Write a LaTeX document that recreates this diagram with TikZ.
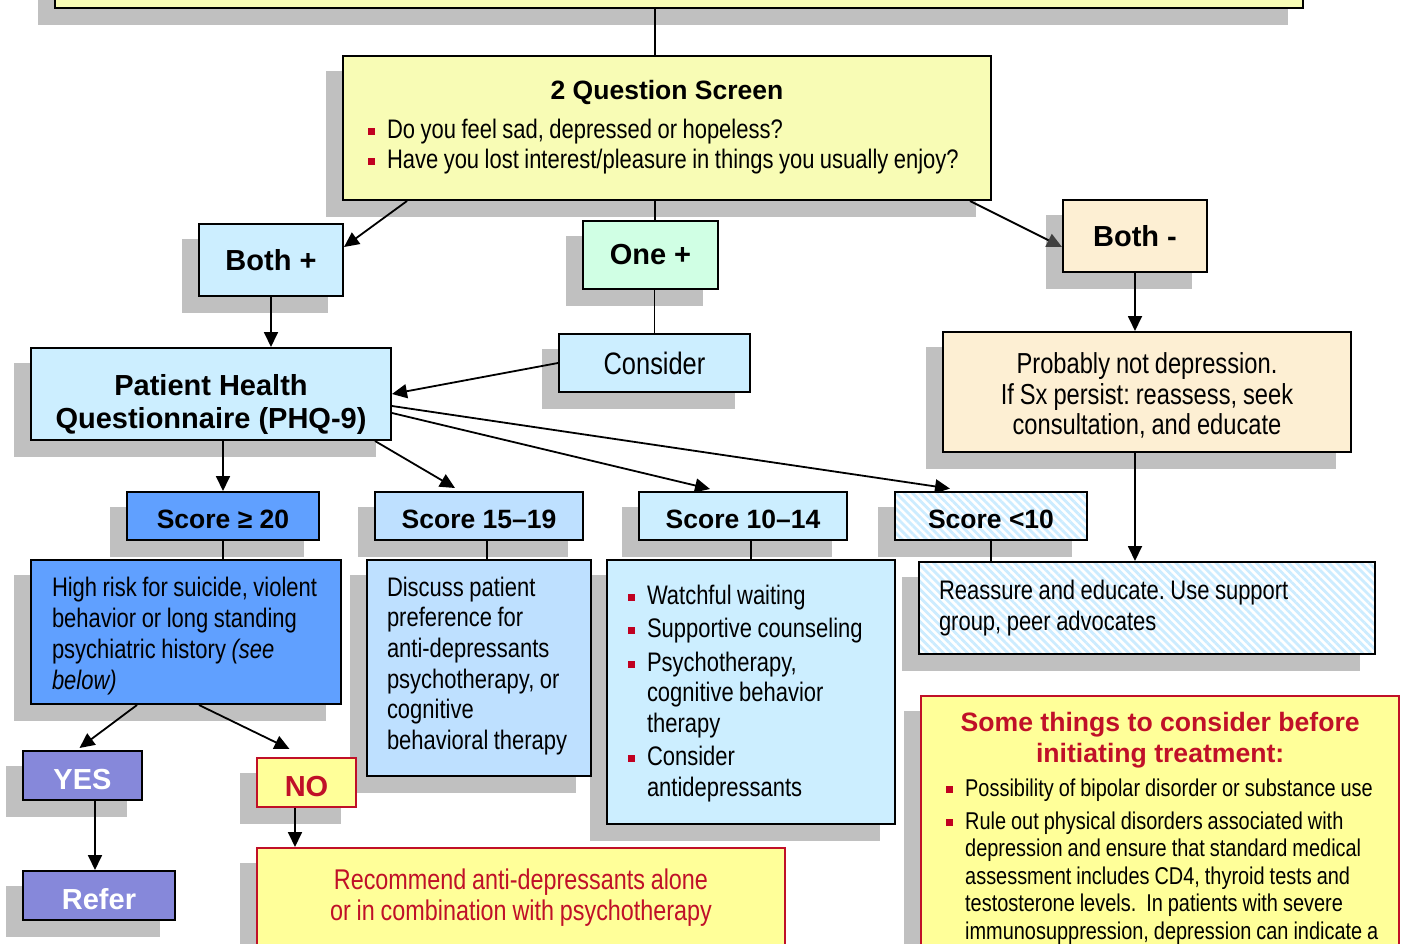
\documentclass[tikz,border=0pt]{standalone}
\usepackage{fontspec}
\setmainfont{Liberation Sans}
\newfontfamily\nar[FakeStretch=0.82,WordSpace=0.9]{Liberation Sans}
\usetikzlibrary{arrows.meta,patterns.meta,calc}
\pgfdeclarelayer{shadowlayer}
\pgfdeclarelayer{connlayer}
\pgfsetlayers{shadowlayer,connlayer,main}
\definecolor{ylw}{RGB}{248,252,181}
\definecolor{lblue}{RGB}{204,238,255}
\definecolor{lgreen}{RGB}{208,255,228}
\definecolor{peach}{RGB}{253,239,211}
\definecolor{midblue}{RGB}{96,160,255}
\definecolor{blueb}{RGB}{190,224,255}
\definecolor{purp}{RGB}{134,136,218}
\definecolor{yel}{RGB}{255,255,153}
\definecolor{dred}{RGB}{192,16,40}
\definecolor{bulred}{RGB}{192,0,32}
\definecolor{shadowc}{RGB}{192,192,192}
\definecolor{stripe}{RGB}{204,236,255}
\definecolor{tipgray}{RGB}{64,64,64}
\newcommand\bul{\makebox[19pt][l]{\textcolor{bulred}{\rule[3.5pt]{7pt}{7pt}}}}
\newcommand\ind{\hspace*{19pt}}
\newcommand\shd[1]{\fill[shadowc] ([shift={(-16,16)}]#1.south west) rectangle ([shift={(-16,16)}]#1.north east);}
\newcommand\ttl[1]{\makebox[428pt][c]{\rmfamily\bfseries\color{dred}\fontsize{26.6}{31}\selectfont #1}}
\frenchspacing
\tikzset{
  box/.style={draw=black, line width=2pt, inner sep=0pt, anchor=center},
  redbox/.style={draw=dred, line width=2pt, inner sep=0pt, anchor=center, fill=yel},
  hatched/.style={preaction={fill=white}, pattern={Lines[angle=-45,distance=5.7pt,line width=2.8pt]}, pattern color=stripe},
  arr/.style={line width=1.8pt, -{Triangle[length=15pt,width=14pt]}},
  grayarr/.style={line width=1.8pt, -{Triangle[length=15pt,width=14pt,color=tipgray,fill=tipgray]}},
  conn/.style={line width=1.8pt},
  hd/.style={font=\bfseries\fontsize{29}{33}\selectfont},
  lowhd/.style={hd, text height=27pt, text depth=0pt},
  sc/.style={font=\bfseries\fontsize{26.5}{30}\selectfont, text height=24pt, text depth=0pt},
  txt/.style={font=\nar\fontsize{26.8}{30.7}\selectfont},
}
\begin{document}
\begin{tikzpicture}[x=1pt,y=-1pt]
\useasboundingbox (0,0) rectangle (1401,943);
% boxes
\node[box, fill=ylw, minimum width=1248pt, minimum height=68pt] (top) at (679,-26) {};
\node[box, fill=ylw, minimum width=648pt, minimum height=144pt] (q2) at (667,128)
 {\begin{minipage}{598pt}\centering\bfseries\fontsize{26.5}{30}\selectfont 2 Question Screen\par\vspace{9pt}
  \raggedright\nar\mdseries\fontsize{26.8}{30}\selectfont
  \bul Do you feel sad, depressed or hopeless?\par
  \bul Have you lost interest/pleasure in things you usually enjoy?\par\vspace{1pt}\end{minipage}};
\node[box, fill=lblue, minimum width=144pt, minimum height=72pt, hd] (bothp) at (271,260) {Both +};
\node[box, fill=lgreen, minimum width=135pt, minimum height=68pt, hd] (onep) at (650.5,255) {One +};
\node[box, fill=lblue, minimum width=191pt, minimum height=58pt, font=\nar\fontsize{31}{34}\selectfont] (cons) at (654.5,363) {Consider};
\node[box, fill=peach, minimum width=144pt, minimum height=72pt, hd] (bothm) at (1135,236) {Both -};
\node[box, fill=peach, minimum width=408pt, minimum height=120pt, font=\nar\fontsize{28.9}{30.5}\selectfont] (prob) at (1147,392)
 {\begin{tabular}{@{}c@{}}\rule{0pt}{34pt}Probably not depression.\\If Sx persist: reassess, seek\\consultation, and educate\end{tabular}};
\node[box, fill=lblue, minimum width=360pt, minimum height=92pt, hd] (phq) at (211,394)
 {\begin{tabular}{@{}c@{}}\rule{0pt}{45pt}Patient Health\\Questionnaire (PHQ-9)\end{tabular}};
\node[box, fill=midblue, minimum width=192pt, minimum height=48pt, sc] (s20) at (223,516) {Score ≥ 20};
\node[box, fill=blueb, minimum width=208pt, minimum height=48pt, sc] (s15) at (479,516) {Score 15–19};
\node[box, fill=lblue, minimum width=208pt, minimum height=48pt, sc] (s10) at (743,516) {Score 10–14};
\node[box, hatched, minimum width=192pt, minimum height=48pt, sc] (s0) at (991,516) {Score <10};
\node[box, fill=midblue, minimum width=310pt, minimum height=144pt, txt, text width=268pt, align=flush left] (hr) at (186,632)
 {\rule{0pt}{27.6pt}High risk for suicide, violent\\behavior or long standing\\psychiatric history \textit{(see}\\\textit{below)}};
\node[box, fill=blueb, minimum width=224pt, minimum height=216pt, txt, text width=184pt, align=flush left] (disc) at (479,668)
 {Discuss patient\\preference for\\anti-depressants\\psychotherapy, or\\cognitive\\behavioral therapy\rule[-9.6pt]{0pt}{1pt}};
\node[box, fill=lblue, minimum width=288pt, minimum height=264pt, txt, text width=246pt, align=flush left] (watch) at (751,692)
 {\rule{0pt}{22.6pt}\bul Watchful waiting\\[2.5pt]\bul Supportive counseling\\[2.5pt]\bul Psychotherapy,\\\ind cognitive behavior\\\ind therapy\\[2.5pt]\bul Consider\\\ind antidepressants};
\node[box, hatched, minimum width=456pt, minimum height=92pt, txt, text width=416pt, align=flush left] (reas) at (1147,608)
 {Reassure and educate. Use support\\group, peer advocates};
\node[box, fill=purp, minimum width=119pt, minimum height=49pt, lowhd, text=white] (yes) at (82.5,775.5) {YES};
\node[box, fill=purp, minimum width=152pt, minimum height=49pt, lowhd, text=white] (refer) at (99,895.5) {Refer};
\node[redbox, minimum width=99pt, minimum height=49pt, lowhd, text=dred] (no) at (306.5,782.5) {NO};
\node[redbox, minimum width=528pt, minimum height=160pt] (rec) at (521,928) {};
\node[font=\nar\fontsize{28.5}{31}\selectfont, text=dred, anchor=center] (rectxt) at (521,899)
 {\begin{tabular}{@{}c@{}}Recommend anti-depressants alone\\or in combination with psychotherapy\end{tabular}};
\node[redbox, minimum width=478pt, minimum height=320pt] (things) at (1160,856) {};
\node[anchor=north west, inner sep=0pt, align=flush left, font=\nar\fontsize{24.3}{27.5}\selectfont] (thingstxt) at (946,712.5)
 {\ttl{Some things to consider before}\\[3.5pt]
  \ttl{initiating treatment:}\\[6pt]
  \bul Possibility of bipolar disorder or substance use\\[5.5pt]
  \bul Rule out physical disorders associated with\\
  \ind depression and ensure that standard medical\\
  \ind assessment includes CD4, thyroid tests and\\
  \ind testosterone levels.\ \ In patients with severe\\
  \ind immunosuppression, depression can indicate a};
% shadows
\begin{pgfonlayer}{shadowlayer}
\foreach \n in {top,q2,bothp,onep,cons,bothm,prob,phq,s20,s15,s10,s0,hr,disc,watch,reas,yes,refer,no,rec,things}{\shd{\n}}
\end{pgfonlayer}
% connectors
\begin{pgfonlayer}{connlayer}
\draw[conn] ([xshift=-12pt]q2.north) -- ([xshift=-12pt]q2.north |- top.south);
\draw[arr] ([xshift=-260pt]q2.south) -- ([yshift=13pt]bothp.east);
\draw[conn] ([xshift=-12pt]q2.south) -- ([xshift=-12pt]q2.south |- onep.north);
\draw[conn] (cons.north) -- (cons.north |- onep.south);
\draw[grayarr] ([xshift=303pt]q2.south) -- ([yshift=-11pt]bothm.west);
\draw[arr] (bothp.south) -- (bothp.south |- phq.north);
\draw[arr] (cons.west) -- (phq.east);
\draw[arr] (s20.north |- phq.south) -- (s20.north);
\draw[arr] ([xshift=164pt]phq.south) -- ([xshift=-24pt,yshift=3pt]s15.north);
\draw[arr] ([yshift=-19pt]phq.east) -- ([xshift=-33pt,yshift=2pt]s10.north);
\draw[arr] ([yshift=-12pt]phq.east) -- ([xshift=-41pt,yshift=2pt]s0.north);
\draw[conn] (s20.south) -- (s20.south |- hr.north);
\draw[conn] ([xshift=8pt]s15.south) -- ([xshift=8pt]s15.south |- disc.north);
\draw[conn] (watch.north) -- (watch.north |- s10.south);
\draw[conn] (s0.south) -- (s0.south |- reas.north);
\draw[arr] (bothm.south) -- (bothm.south |- prob.north);
\draw[arr] (bothm.south |- prob.south) -- (bothm.south |- reas.north);
\draw[arr] ([xshift=-49pt]hr.south) -- ([xshift=-3pt,yshift=2pt]yes.north);
\draw[arr] ([xshift=13pt]hr.south) -- ([xshift=-17pt,yshift=8pt]no.north);
\draw[arr] ([xshift=12.5pt]yes.south) -- ([xshift=12.5pt]yes.south |- refer.north);
\draw[arr] ([xshift=-11.5pt]no.south) -- ([xshift=-11.5pt]no.south |- rec.north);
\end{pgfonlayer}
\end{tikzpicture}
\end{document}
